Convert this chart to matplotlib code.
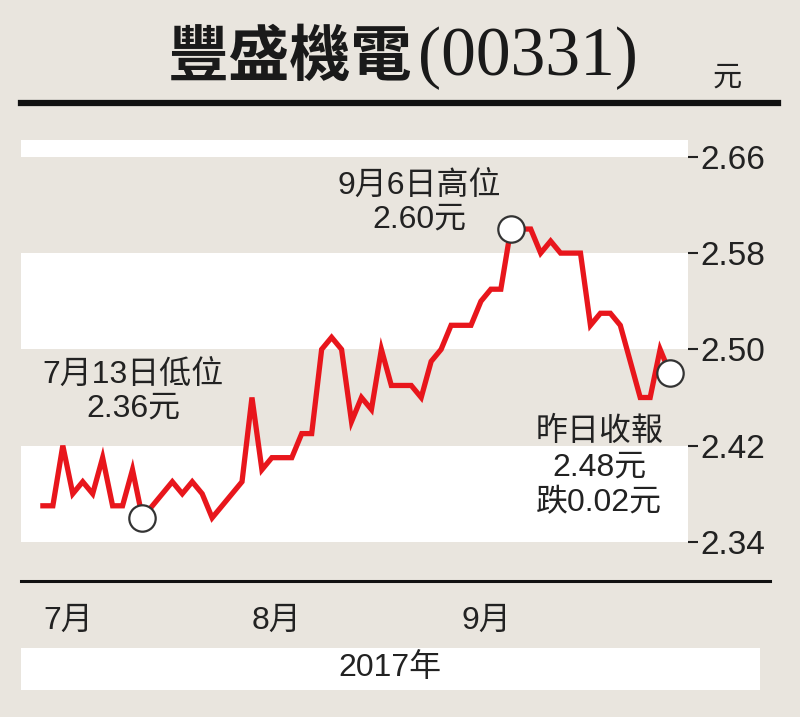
import matplotlib.pyplot as plt
from matplotlib.lines import Line2D
from matplotlib.patches import Rectangle

# 豐盛機電(00331) 2017年7月至9月每日收市價（元）
prices = [2.37, 2.37, 2.42, 2.38, 2.39, 2.38, 2.41, 2.37, 2.37, 2.40,
          2.36, 2.37, 2.38, 2.39, 2.38, 2.39, 2.38, 2.36, 2.37, 2.38,
          2.39, 2.46, 2.40, 2.41, 2.41, 2.41, 2.43, 2.43, 2.50, 2.51,
          2.50, 2.44, 2.46, 2.45, 2.50, 2.47, 2.47, 2.47, 2.46, 2.49,
          2.50, 2.52, 2.52, 2.52, 2.54, 2.55, 2.55, 2.60, 2.60, 2.60,
          2.58, 2.59, 2.58, 2.58, 2.58, 2.52, 2.53, 2.53, 2.52, 2.49,
          2.46, 2.46, 2.50, 2.48]
marked = [10, 47, 63]          # 低位、高位、昨日收報
month_pos = [0, 21, 42]
month_labels = ['7月', '8月', '9月']
y_ticks = [2.34, 2.42, 2.50, 2.58, 2.66]
y_labels = ['2.34', '2.42', '2.50', '2.58', '2.66']

BG = '#e9e5de'
RED = '#e8161c'
INK = '#222222'
FONT = ['Liberation Sans', 'Noto Sans CJK TC']
plt.rcParams['font.family'] = FONT

fig = plt.figure(figsize=(8, 7.17), dpi=100, facecolor=BG)
W, H = 800, 717
ax = fig.add_axes([21 / W, 1 - 581 / H, (688 - 21) / W, (581 - 140) / H])
ax.set_facecolor(BG)

ymin, ymax = 2.3075, 2.674
ax.set_ylim(ymin, ymax)
ax.set_xlim(-2.2, 64.8)

# 白色間條
ax.axhspan(2.66, ymax, color='white', lw=0)
ax.axhspan(2.50, 2.58, color='white', lw=0)
ax.axhspan(2.34, 2.42, color='white', lw=0)

x = list(range(len(prices)))
ax.plot(x, prices, color=RED, lw=3.8, solid_joinstyle='miter', zorder=3)
ax.plot([x[i] for i in marked], [prices[i] for i in marked], 'o', ms=19,
        mfc='white', mec='#333333', mew=1.6, zorder=4)

for s in ax.spines.values():
    s.set_visible(False)

ax.yaxis.tick_right()
ax.set_yticks(y_ticks, y_labels)
ax.tick_params(axis='y', length=7, width=1.5, color=INK, pad=2,
               labelsize=24, labelcolor=INK)
ax.set_xticks(month_pos, month_labels)
ax.tick_params(axis='x', length=0, pad=18, labelsize=23, labelcolor=INK)
for t in ax.get_xticklabels():
    t.set_ha('left')

# 標註
ax.text(9.1, 2.465, '7月13日低位\n2.36元', ha='center', va='center',
        fontsize=23, color=INK, linespacing=1.15)
ax.text(37.8, 2.622, '9月6日高位\n2.60元', ha='center', va='center',
        fontsize=23, color=INK, linespacing=1.15)
ax.text(55.9, 2.402, '昨日收報\n2.48元\n跌0.02元', ha='center', va='center',
        fontsize=23, color=INK, linespacing=1.25)

# 標題及上下黑線
t1 = fig.text(168 / W, 1 - 58 / H, '豐盛機電', ha='left', va='center',
              fontsize=44, fontweight='bold', color='#1a1a1a',
              family='Noto Sans CJK TC')
ax.annotate('(00331)', xy=(1.0, 0.5), xycoords=t1, xytext=(4, 0),
            textcoords='offset points', ha='left', va='center',
            fontsize=50, color='#1a1a1a', family='Liberation Serif',
            annotation_clip=False)
fig.text(727 / W, 1 - 78 / H, '元', ha='center', va='center', fontsize=21,
         color=INK)
fig.add_artist(Line2D([21 / W, 778 / W], [1 - 103 / H, 1 - 103 / H],
                      color='#111111', lw=4.5))
fig.add_artist(Line2D([21 / W, 770 / W], [1 - 581 / H, 1 - 581 / H],
                      color='#111111', lw=2.2))

fig.add_artist(Rectangle((21 / W, 1 - 690 / H), (760 - 21) / W, 42 / H,
                         transform=fig.transFigure, color='white', lw=0))
fig.text(390 / W, 1 - 668 / H, '2017年', ha='center', va='center',
         fontsize=23, color=INK)

fig.savefig('out.png', dpi=100, facecolor=BG)
